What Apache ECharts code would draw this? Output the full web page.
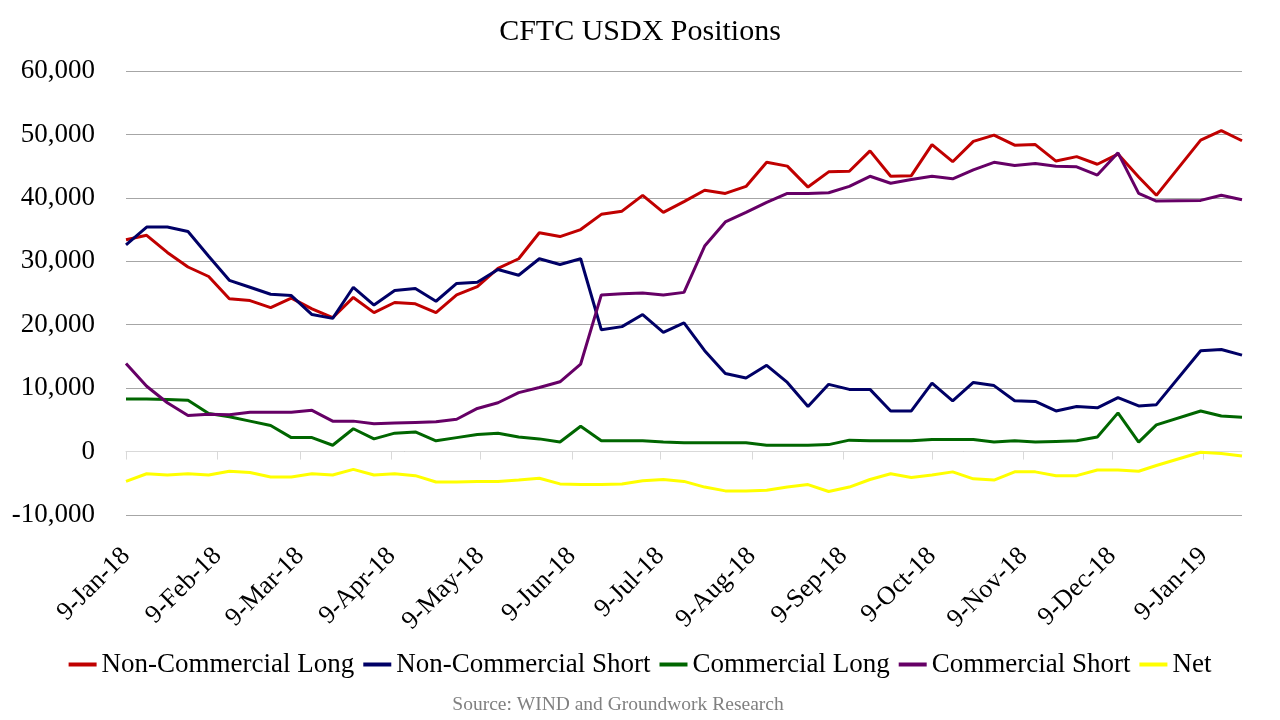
<!DOCTYPE html>
<html>
<head>
<meta charset="utf-8">
<script src="https://cdn.jsdelivr.net/npm/echarts@6/dist/echarts.min.js"></script>
<style>
  html, body { margin: 0; padding: 0; background: #fff; }
  #chart { width: 1280px; height: 720px; }
</style>
</head>
<body>
<div id="chart"></div>
<script>
// ---- Data ----
const categories = [
  '2018-01-09','2018-01-16','2018-01-23','2018-01-30',
  '2018-02-06','2018-02-13','2018-02-20','2018-02-27',
  '2018-03-06','2018-03-13','2018-03-20','2018-03-27',
  '2018-04-03','2018-04-10','2018-04-17','2018-04-24',
  '2018-05-01','2018-05-08','2018-05-15','2018-05-22','2018-05-29',
  '2018-06-05','2018-06-12','2018-06-19','2018-06-26',
  '2018-07-03','2018-07-10','2018-07-17','2018-07-24','2018-07-31',
  '2018-08-07','2018-08-14','2018-08-21','2018-08-28',
  '2018-09-04','2018-09-11','2018-09-18','2018-09-25',
  '2018-10-02','2018-10-09','2018-10-16','2018-10-23','2018-10-30',
  '2018-11-06','2018-11-13','2018-11-20','2018-11-27',
  '2018-12-04','2018-12-11','2018-12-18','2018-12-24',
  '2019-01-08','2019-01-15','2019-01-22'
];

const nonCommercialLong = [
  33400, 34100, 31400, 29100, 27600, 24100, 23800, 22700, 24200, 22500,
  21100, 24300, 21900, 23500, 23300, 21900, 24700, 26000, 28900, 30400,
  34500, 33900, 35000, 37400, 37900, 40400, 37700, 39400, 41200, 40700,
  41800, 45600, 45000, 41700, 44100, 44200, 47400, 43400, 43500, 48400,
  45700, 48900, 49900, 48300, 48400, 45800, 46500, 45300, 46900, 43300,
  40400, 49100, 50600, 49000
];

const nonCommercialShort = [
  32600, 35400, 35400, 34700, 30800, 27000, 25900, 24800, 24600, 21600,
  21000, 25900, 23100, 25400, 25700, 23700, 26500, 26700, 28700, 27800,
  30400, 29500, 30400, 19200, 19700, 21600, 18800, 20300, 15900, 12300,
  11600, 13600, 10900, 7100, 10600, 9800, 9800, 6400, 6400, 10800,
  8000, 10900, 10400, 8000, 7900, 6400, 7100, 6900, 8500, 7200,
  7400, 15900, 16100, 15200
];

const commercialLong = [
  8300, 8300, 8200, 8100, 6000, 5500, 4800, 4100, 2200, 2200,
  1000, 3600, 2000, 2900, 3100, 1700, 2200, 2700, 2900, 2300,
  2000, 1500, 4000, 1700, 1700, 1700, 1500, 1400, 1400, 1400,
  1400, 1000, 1000, 1000, 1100, 1800, 1700, 1700, 1700, 1900,
  1900, 1900, 1500, 1700, 1500, 1600, 1700, 2300, 6100, 1500,
  4200, 6400, 5600, 5400
];

const commercialShort = [
  13900, 10300, 7700, 5700, 5900, 5800, 6200, 6200, 6200, 6500,
  4800, 4800, 4400, 4500, 4600, 4700, 5100, 6800, 7700, 9300,
  10100, 11000, 13800, 24700, 24900, 25000, 24700, 25100, 32400, 36200,
  37700, 39300, 40700, 40700, 40800, 41800, 43400, 42300, 42900, 43400,
  43000, 44400, 45600, 45100, 45400, 45000, 44900, 43600, 47100, 40700,
  39500, 39600, 40400, 39700
];

const net = [
  -4700, -3500, -3700, -3500, -3700, -3100, -3300, -4000, -4000, -3500,
  -3700, -2800, -3700, -3500, -3800, -4800, -4800, -4700, -4700, -4500,
  -4200, -5100, -5200, -5200, -5100, -4600, -4400, -4700, -5600, -6200,
  -6200, -6100, -5600, -5200, -6300, -5600, -4400, -3500, -4100, -3700,
  -3200, -4300, -4500, -3200, -3200, -3800, -3800, -2900, -2900, -3100,
  -2200, -100, -300, -700
];

const seriesNames = ['Non-Commercial Long', 'Non-Commercial Short', 'Commercial Long', 'Commercial Short', 'Net'];

const tickLabels = [
  '9-Jan-18','9-Feb-18','9-Mar-18','9-Apr-18','9-May-18','9-Jun-18','9-Jul-18',
  '9-Aug-18','9-Sep-18','9-Oct-18','9-Nov-18','9-Dec-18','9-Jan-19'
];

const yTicks = { min: -10000, max: 60000, interval: 10000 };

// ---- Helpers ----
const MONTHS = ['Jan','Feb','Mar','Apr','May','Jun','Jul','Aug','Sep','Oct','Nov','Dec'];
const DAY = 86400000;
function dayNumber(y, m, d) { return Math.round(Date.UTC(y, m, d) / DAY); }
function parseDate(s) {
  const p = s.split('-').map(Number);
  return dayNumber(p[0], p[1] - 1, p[2]);
}
function parseTick(s) {
  const p = s.split('-');
  return dayNumber(2000 + Number(p[2]), MONTHS.indexOf(p[1]), Number(p[0]));
}
const tickValues = tickLabels.map(parseTick);
function tickFormatter(v) {
  let best = 0, bd = Infinity;
  tickValues.forEach((t, i) => { const d = Math.abs(t - v); if (d < bd) { bd = d; best = i; } });
  return tickLabels[best];
}
const xs = categories.map(parseDate);
const pair = arr => arr.map((v, i) => [xs[i], v]);

const FONT = "'Liberation Serif', 'Times New Roman', serif";
const colors = ['#C00000', '#000066', '#006600', '#660066', '#FFFF00'];
const dataSets = [nonCommercialLong, nonCommercialShort, commercialLong, commercialShort, net];

const chart = echarts.init(document.getElementById('chart'), null, { renderer: 'canvas' });
chart.setOption({
  animation: false,
  backgroundColor: '#ffffff',
  title: {
    text: 'CFTC USDX Positions',
    left: 'center',
    top: 12,
    textStyle: { fontFamily: FONT, fontSize: 30, fontWeight: 'normal', color: '#000' }
  },
  legend: {
    data: seriesNames,
    left: 'center',
    top: 646,
    icon: 'rect',
    itemWidth: 28,
    itemHeight: 4,
    itemGap: 9,
    textStyle: { fontFamily: FONT, fontSize: 27, color: '#000' }
  },
  grid: { left: 126, right: 38, top: 71, bottom: 205, containLabel: false },
  xAxis: {
    type: 'value',
    min: xs[0],
    max: xs[xs.length - 1],
    axisLine: { show: true, onZero: true, lineStyle: { color: '#d9d9d9', width: 1 } },
    axisTick: { show: true, customValues: tickValues, length: 8, lineStyle: { color: '#d9d9d9', width: 1 } },
    axisLabel: {
      customValues: tickValues,
      rotate: 45,
      margin: 37,
      formatter: tickFormatter,
      fontFamily: FONT,
      fontSize: 26,
      color: '#000'
    },
    splitLine: { show: false }
  },
  yAxis: {
    type: 'value',
    min: yTicks.min,
    max: yTicks.max,
    interval: yTicks.interval,
    axisLine: { show: false },
    axisTick: { show: false },
    axisLabel: {
      margin: 31,
      fontFamily: FONT,
      fontSize: 27,
      color: '#000',
      formatter: v => v.toLocaleString('en-US')
    },
    splitLine: { show: true, lineStyle: { color: '#a6a6a6', width: 1 } }
  },
  graphic: [{
    type: 'text',
    x: 618,
    y: 705,
    style: {
      text: 'Source: WIND and Groundwork Research',
      fill: '#808080',
      font: "19.5px 'Liberation Serif', serif",
      textAlign: 'center',
      textVerticalAlign: 'middle'
    }
  }],
  series: seriesNames.map((name, i) => ({
    name: name,
    type: 'line',
    data: pair(dataSets[i]),
    symbol: 'none',
    lineStyle: { width: 3, color: colors[i] },
    itemStyle: { color: colors[i] }
  }))
});
</script>
</body>
</html>
